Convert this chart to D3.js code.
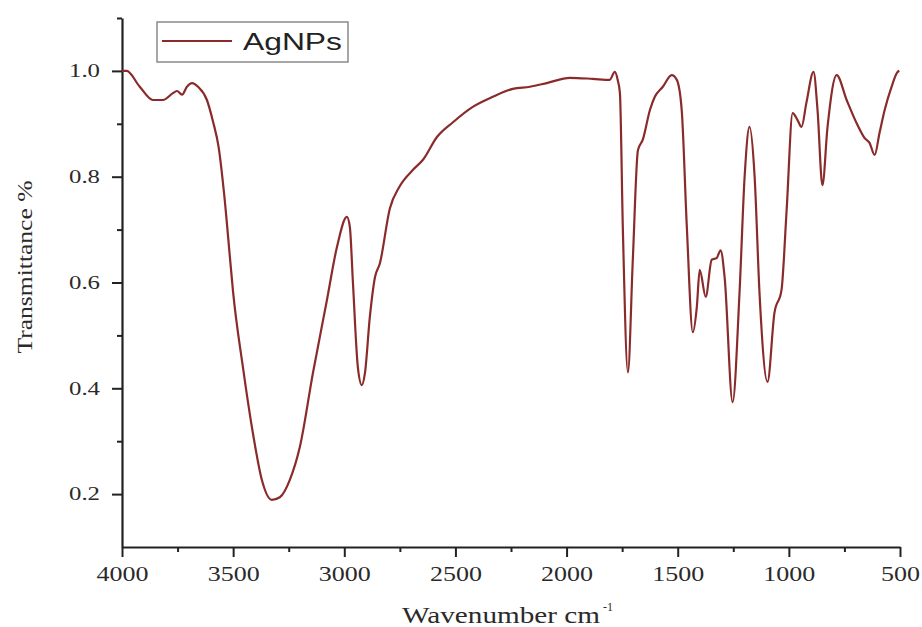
<!DOCTYPE html>
<html>
<head>
<meta charset="utf-8">
<script src="https://cdn.jsdelivr.net/npm/d3@7"></script>
<style>
  body { margin: 0; background: #fff; }
  svg text.serif, svg .tick text { font-family: 'Liberation Serif', 'Times New Roman', serif; }
</style>
</head>
<body>
<script>
// FTIR spectrum of AgNPs
const wavenumber = [
  4000, 3979, 3920, 3861, 3816, 3771, 3753, 3730, 3708, 3685, 3658, 3618, 3591, 3565, 3540,
  3515, 3501, 3456, 3411, 3371, 3326, 3290, 3245, 3200, 3141, 3078, 3033, 2988, 2975, 2961, 2939,
  2921, 2907, 2885, 2862, 2840, 2795, 2752, 2691, 2646, 2583, 2511, 2422, 2332, 2242, 2165,
  2089, 1985, 1882, 1806, 1783, 1770, 1760, 1747, 1724, 1702, 1679, 1657, 1625, 1603, 1567,
  1527, 1504, 1482, 1459, 1432, 1414, 1401, 1374, 1347, 1325, 1307, 1289, 1253, 1222, 1199,
  1177, 1154, 1132, 1096, 1065, 1033, 1010, 983, 961, 943, 921, 889, 871, 849, 826,
  785, 740, 695, 659, 637, 614, 592, 569, 538, 511, 503
];
const transmittance = [
  1.0, 1.0, 0.97, 0.945, 0.945, 0.958, 0.962, 0.955, 0.97, 0.977, 0.97, 0.945, 0.905, 0.855, 0.765,
  0.65, 0.585, 0.44, 0.315, 0.227, 0.189, 0.194, 0.227, 0.289, 0.429, 0.567, 0.667, 0.724, 0.705, 0.599, 0.44,
  0.406, 0.429, 0.535, 0.61, 0.636, 0.74, 0.781, 0.813, 0.832, 0.875, 0.903, 0.932, 0.951, 0.966, 0.970,
  0.977, 0.987, 0.985, 0.983, 0.998, 0.983, 0.958, 0.705, 0.43, 0.643, 0.85, 0.87, 0.926, 0.951, 0.97,
  0.992, 0.983, 0.926, 0.705, 0.506, 0.554, 0.624, 0.573, 0.643, 0.646, 0.661, 0.61, 0.374, 0.58, 0.80,
  0.894, 0.80, 0.58, 0.412, 0.542, 0.586, 0.737, 0.920, 0.907, 0.894, 0.94, 0.998, 0.926, 0.784, 0.894,
  0.992, 0.945, 0.901, 0.873, 0.864, 0.841, 0.883, 0.926, 0.970, 0.998, 1.0
];
const xMajor = [4000, 3500, 3000, 2500, 2000, 1500, 1000, 500];
const xMinor = [3750, 3250, 2750, 2250, 1750, 1250, 750];
const yMajor = [0.2, 0.4, 0.6, 0.8, 1.0];
const yMinor = [0.3, 0.5, 0.7, 0.9, 1.1];
const seriesName = "AgNPs";

const w = 922, h = 627;
const lineColor = "#8a2b2b";
const axisColor = "#222";

const svg = d3.select("body").append("svg")
  .attr("width", w)
  .attr("height", h);

const x = d3.scaleLinear().domain([4000, 500]).range([122, 900]);
const y = d3.scaleLinear().domain([0.1, 1.1]).range([547, 18]);

const data = wavenumber.map((wn, i) => ({ wn: wn, t: transmittance[i] }));

// minor ticks first, then the major axes on top
svg.append("g")
  .attr("transform", `translate(0,${y(0.1)})`)
  .call(d3.axisBottom(x).tickValues(xMinor).tickSize(5).tickFormat(""))
  .call(g => g.select(".domain").remove())
  .call(g => g.selectAll("line").attr("stroke", axisColor).attr("stroke-width", 2));

svg.append("g")
  .attr("transform", `translate(${x(4000)},0)`)
  .call(d3.axisLeft(y).tickValues(yMinor).tickSize(5).tickFormat(""))
  .call(g => g.select(".domain").remove())
  .call(g => g.selectAll("line").attr("stroke", axisColor).attr("stroke-width", 2));

const xAxis = svg.append("g")
  .attr("transform", `translate(0,${y(0.1)})`)
  .call(d3.axisBottom(x).tickValues(xMajor).tickSize(10).tickSizeOuter(0).tickPadding(9)
    .tickFormat(d3.format("d")));
xAxis.attr("font-family", null);
xAxis.select(".domain").attr("stroke", axisColor).attr("stroke-width", 2.2);
xAxis.selectAll("line").attr("stroke", axisColor).attr("stroke-width", 2);
xAxis.selectAll("text")
  .attr("font-size", 21)
  .attr("fill", "#2a2a2a")
  .attr("textLength", d => String(d).length * 13)
  .attr("lengthAdjust", "spacingAndGlyphs");

const yAxis = svg.append("g")
  .attr("transform", `translate(${x(4000)},0)`)
  .call(d3.axisLeft(y).tickValues(yMajor).tickSize(10).tickSizeOuter(0).tickPadding(12)
    .tickFormat(d3.format(".1f")));
yAxis.attr("font-family", null);
yAxis.select(".domain").attr("stroke", axisColor).attr("stroke-width", 2.2);
yAxis.selectAll("line").attr("stroke", axisColor).attr("stroke-width", 2);
yAxis.selectAll("text")
  .attr("font-size", 18)
  .attr("fill", "#2a2a2a")
  .attr("textLength", 31)
  .attr("lengthAdjust", "spacingAndGlyphs");

// spectrum
const line = d3.line()
  .x(d => x(d.wn))
  .y(d => y(d.t))
  .curve(d3.curveMonotoneX);

svg.append("path")
  .datum(data)
  .attr("d", line)
  .attr("fill", "none")
  .attr("stroke", lineColor)
  .attr("stroke-width", 2.2)
  .attr("stroke-linejoin", "round");

// axis titles
const xTitle = svg.append("text")
  .attr("class", "serif")
  .attr("x", 402)
  .attr("y", 623)
  .attr("font-size", 23)
  .attr("fill", "#2a2a2a");
xTitle.append("tspan").text("Wavenumber cm")
  .attr("textLength", 198)
  .attr("lengthAdjust", "spacingAndGlyphs");
xTitle.append("tspan").text(" -1")
  .attr("font-size", 12)
  .attr("dy", -12);

svg.append("text")
  .attr("class", "serif")
  .attr("transform", "translate(32,267) rotate(-90)")
  .attr("text-anchor", "middle")
  .attr("font-size", 21)
  .attr("fill", "#2a2a2a")
  .attr("textLength", 173)
  .attr("lengthAdjust", "spacingAndGlyphs")
  .text("Transmittance %");

// legend
const legend = svg.append("g");
legend.append("rect")
  .attr("x", 157).attr("y", 22)
  .attr("width", 191).attr("height", 40)
  .attr("fill", "#fff")
  .attr("stroke", "#8a8a8a")
  .attr("stroke-width", 1.5);
legend.append("line")
  .attr("x1", 162).attr("x2", 232)
  .attr("y1", 41).attr("y2", 41)
  .attr("stroke", lineColor)
  .attr("stroke-width", 2.2);
legend.append("text")
  .attr("x", 243).attr("y", 50)
  .attr("font-family", "'Liberation Sans', Arial, sans-serif")
  .attr("font-size", 24)
  .attr("fill", "#222")
  .attr("textLength", 99)
  .attr("lengthAdjust", "spacingAndGlyphs")
  .text(seriesName);
</script>
</body>
</html>
